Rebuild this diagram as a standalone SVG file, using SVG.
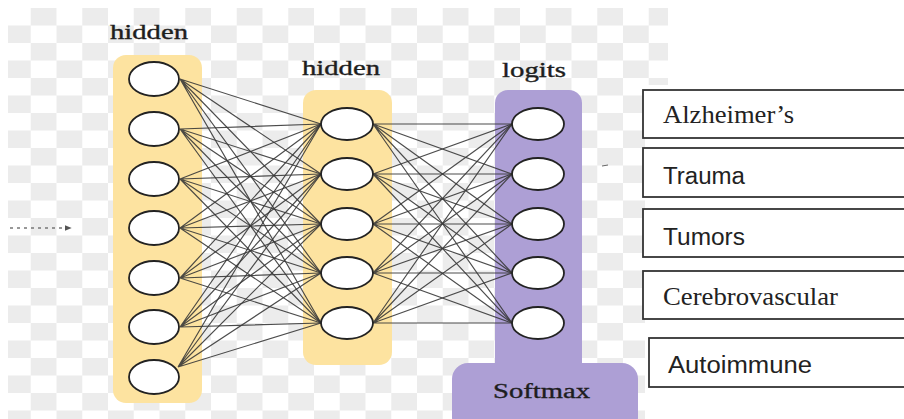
<svg xmlns="http://www.w3.org/2000/svg" width="904" height="419" viewBox="0 0 904 419">
<defs>
<pattern id="chk" x="5" y="8" width="51.5" height="35" patternUnits="userSpaceOnUse">
<rect x="25.75" y="0" width="25.75" height="17.5" fill="#ececec"/>
<rect x="0" y="17.5" width="25.75" height="17.5" fill="#ececec"/>
</pattern>
<marker id="ah" viewBox="0 0 10 10" refX="9" refY="5" markerWidth="7" markerHeight="7" markerUnits="userSpaceOnUse" orient="auto">
<path d="M0 1 L10 5 L0 9 Z" fill="#555"/>
</marker>
<style>
.lbl{font-family:"Liberation Serif","Times New Roman",serif;font-size:20px;fill:#1e1e1e;stroke:#1e1e1e;stroke-width:0.35}
.ser{font-family:"Liberation Serif","Times New Roman",serif;font-size:26px;fill:#222}
.san{font-family:"Liberation Sans",Arial,sans-serif;font-size:23px;fill:#222}
.node{fill:#fff;stroke:#222;stroke-width:1.8}
.conn{fill:none;stroke:#383838;stroke-width:1.15;stroke-opacity:0.9}
.box{fill:#fff;stroke:#333;stroke-width:1.8}
.yel{fill:#fde3a0}
.pur{fill:#ad9fd5}
</style>
</defs>
<rect width="904" height="419" fill="#fff"/>
<rect x="8" y="8" width="637" height="411" fill="url(#chk)"/>
<rect x="645" y="8" width="23" height="77" fill="url(#chk)"/>

<g id="layer-hidden1">
<rect class="yel" x="113" y="55" width="89" height="348" rx="13"/>
<text class="lbl" x="110" y="39" textLength="78" lengthAdjust="spacingAndGlyphs">hidden</text>
</g>
<g id="layer-hidden2">
<rect class="yel" x="303" y="90" width="89" height="275" rx="13"/>
<text class="lbl" x="302" y="75" textLength="78" lengthAdjust="spacingAndGlyphs">hidden</text>
</g>
<g id="layer-logits">
<rect class="pur" x="495" y="90" width="87" height="290" rx="13"/>
<text class="lbl" x="502" y="77" textLength="64" lengthAdjust="spacingAndGlyphs">logits</text>
</g>
<g id="softmax">
<rect class="pur" x="452" y="363" width="186" height="70" rx="16"/>
<text class="lbl" x="493" y="398" textLength="97" lengthAdjust="spacingAndGlyphs">Softmax</text>
</g>

<g id="connectors">
<path class="conn" d="M180 79 L321 124 M180 79 L321 174 M180 79 L321 224 M180 79 L321 273 M180 79 L321 323"/>
<path class="conn" d="M180 129 L321 124 M180 129 L321 174 M180 129 L321 224 M180 129 L321 273 M180 129 L321 323"/>
<path class="conn" d="M180 179 L321 124 M180 179 L321 174 M180 179 L321 224 M180 179 L321 273 M180 179 L321 323"/>
<path class="conn" d="M180 228 L321 124 M180 228 L321 174 M180 228 L321 224 M180 228 L321 273 M180 228 L321 323"/>
<path class="conn" d="M180 278 L321 124 M180 278 L321 174 M180 278 L321 224 M180 278 L321 273 M180 278 L321 323"/>
<path class="conn" d="M180 327 L321 124 M180 327 L321 174 M180 327 L321 224 M180 327 L321 273 M180 327 L321 323"/>
<path class="conn" d="M178 367 L321 124 M178 367 L321 174 M178 367 L321 224 M178 367 L321 273 M178 367 L321 323"/>
<path class="conn" d="M373 124 L512 124 M373 124 L512 174 M373 124 L512 224 M373 124 L512 273 M373 124 L512 323"/>
<path class="conn" d="M373 174 L512 124 M373 174 L512 174 M373 174 L512 224 M373 174 L512 273 M373 174 L512 323"/>
<path class="conn" d="M373 224 L512 124 M373 224 L512 174 M373 224 L512 224 M373 224 L512 273 M373 224 L512 323"/>
<path class="conn" d="M373 273 L512 124 M373 273 L512 174 M373 273 L512 224 M373 273 L512 273 M373 273 L512 323"/>
<path class="conn" d="M373 323 L512 124 M373 323 L512 174 M373 323 L512 224 M373 323 L512 273 M373 323 L512 323"/>
<path d="M10 228 L71 228" fill="none" stroke="#777" stroke-width="1.5" stroke-dasharray="3 4" marker-end="url(#ah)"/>
<path d="M602 166 L608 165" stroke="#666" stroke-width="1"/>
</g>

<g id="h1-nodes">
<ellipse class="node" cx="154" cy="79" rx="25" ry="17"/>
<ellipse class="node" cx="154" cy="129" rx="25" ry="17"/>
<ellipse class="node" cx="154" cy="179" rx="25" ry="17"/>
<ellipse class="node" cx="154" cy="228" rx="25" ry="17"/>
<ellipse class="node" cx="154" cy="278" rx="25" ry="17"/>
<ellipse class="node" cx="154" cy="327" rx="25" ry="17"/>
<ellipse class="node" cx="154" cy="377" rx="25" ry="17"/>
</g>
<g id="h2-nodes">
<ellipse class="node" cx="347" cy="124" rx="26" ry="16"/>
<ellipse class="node" cx="347" cy="174" rx="26" ry="16"/>
<ellipse class="node" cx="347" cy="224" rx="26" ry="16"/>
<ellipse class="node" cx="347" cy="273" rx="26" ry="16"/>
<ellipse class="node" cx="347" cy="323" rx="26" ry="16"/>
</g>
<g id="logit-nodes">
<ellipse class="node" cx="538" cy="124" rx="26" ry="16"/>
<ellipse class="node" cx="538" cy="174" rx="26" ry="16"/>
<ellipse class="node" cx="538" cy="224" rx="26" ry="16"/>
<ellipse class="node" cx="538" cy="273" rx="26" ry="16"/>
<ellipse class="node" cx="538" cy="323" rx="26" ry="16"/>
</g>

<g id="class-alzheimers">
<rect class="box" x="643" y="90" width="270" height="48"/>
<text class="ser" x="663" y="123" textLength="131" lengthAdjust="spacingAndGlyphs">Alzheimer’s</text>
</g>
<g id="class-trauma">
<rect class="box" x="643" y="148" width="270" height="49"/>
<text class="san" x="663" y="184" textLength="82" lengthAdjust="spacingAndGlyphs">Trauma</text>
</g>
<g id="class-tumors">
<rect class="box" x="643" y="209" width="270" height="48"/>
<text class="san" x="663" y="245" textLength="82" lengthAdjust="spacingAndGlyphs">Tumors</text>
</g>
<g id="class-cerebrovascular">
<rect class="box" x="643" y="271" width="270" height="48"/>
<text class="ser" x="663" y="305" textLength="175" lengthAdjust="spacingAndGlyphs">Cerebrovascular</text>
</g>
<g id="class-autoimmune">
<rect class="box" x="649" y="338" width="270" height="49"/>
<text class="san" x="668" y="373" textLength="144" lengthAdjust="spacingAndGlyphs">Autoimmune</text>
</g>
</svg>
